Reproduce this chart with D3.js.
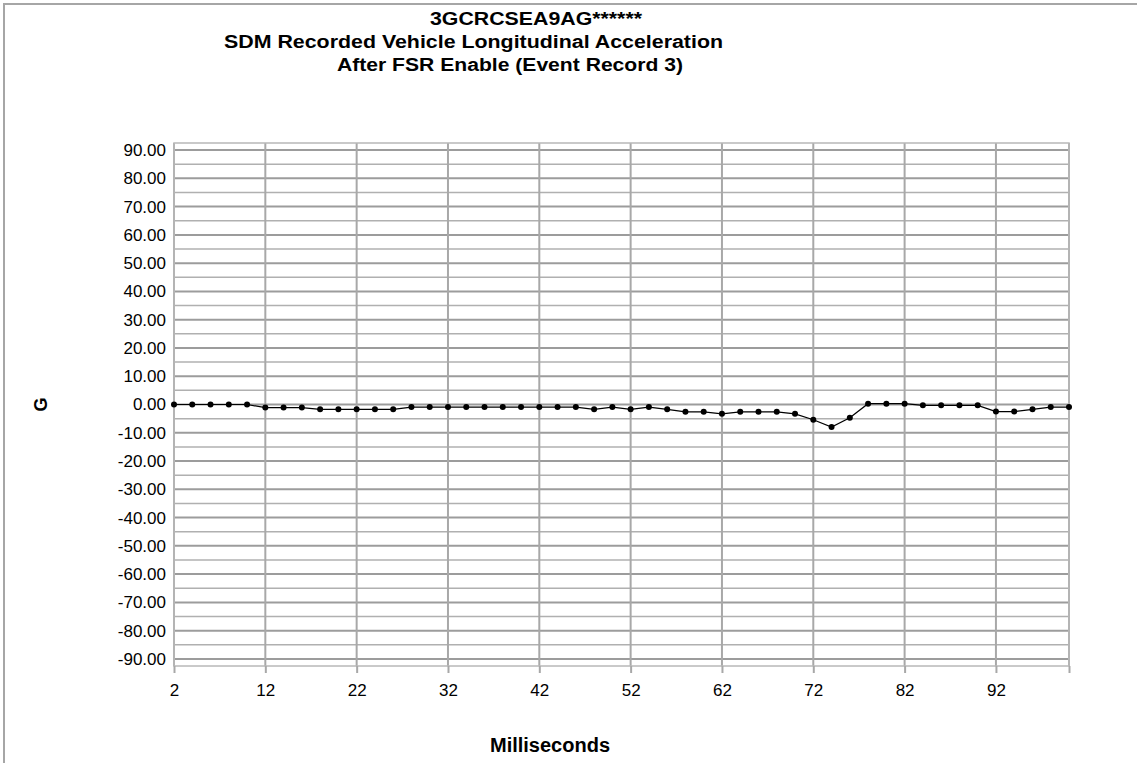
<!DOCTYPE html>
<html>
<head>
<meta charset="utf-8">
<script src="https://cdn.jsdelivr.net/npm/d3@7"></script>
<style>
  body { margin: 0; background: #fff; }
  text { font-family: "Liberation Sans", Arial, sans-serif; fill: #000; }
  .title { font-weight: bold; font-size: 18px; }
  .axisTitle { font-weight: bold; }
</style>
</head>
<body>
<div id="chart"></div>
<script>
// data
const titleLines = ["3GCRCSEA9AG******", "SDM Recorded Vehicle Longitudinal Acceleration", "After FSR Enable (Event Record 3)"];
const milliseconds = d3.range(2, 101, 2);   // 2, 4, ... 100
const accelG = [
    0, 0, 0, 0, 0, -1.1, -1.1, -1.1, -1.7, -1.7,
    -1.7, -1.7, -1.7, -0.9, -0.9, -0.9, -0.9, -0.9, -0.9, -0.9,
    -0.9, -0.9, -0.9, -1.7, -0.9, -1.7, -0.9, -1.7, -2.6, -2.6,
    -3.3, -2.6, -2.6, -2.6, -3.3, -5.4, -8.0, -4.7, 0.3, 0.3,
    0.3, -0.3, -0.3, -0.3, -0.3, -2.5, -2.5, -1.7, -0.9, -0.9
];
const xTicks = [2, 12, 22, 32, 42, 52, 62, 72, 82, 92];
const yTicks = d3.range(-90, 91, 10);
const yMinor = d3.range(-85, 90, 10);

const width = 1137, height = 763;
const margin = {top: 143, right: 68, bottom: 97, left: 174};

const svg = d3.select("#chart").append("svg")
    .attr("width", width)
    .attr("height", height);

// outer chart border (runs off the right and bottom edge)
svg.append("rect")
    .attr("x", 4).attr("y", 4)
    .attr("width", width + 20).attr("height", height + 20)
    .attr("fill", "none")
    .attr("stroke", "#a6a6a6")
    .attr("stroke-width", 2);

// title, Excel-style with uneven indents
const titleX = [430, 224, 337];
const titleW = [212, 499, 346];
svg.selectAll(".title")
    .data(titleLines)
    .join("text")
    .attr("class", "title")
    .attr("x", (d, i) => titleX[i])
    .attr("y", (d, i) => 25 + i * 23)
    .attr("textLength", (d, i) => titleW[i])
    .attr("lengthAdjust", "spacingAndGlyphs")
    .text(d => d);

const x = d3.scaleLinear()
    .domain([2, 100])
    .range([margin.left, width - margin.right]);

const y = d3.scaleLinear()
    .domain([-92.5, 92.5])
    .range([height - margin.bottom, margin.top]);

const g = svg.append("g");

// minor horizontal gridlines
g.selectAll(".minor")
    .data(yMinor)
    .join("line")
    .attr("x1", x(2)).attr("x2", x(100))
    .attr("y1", d => y(d)).attr("y2", d => y(d))
    .attr("stroke", "#b0b0b0")
    .attr("stroke-width", 1.5);

// major horizontal gridlines
g.selectAll(".major")
    .data(yTicks)
    .join("line")
    .attr("x1", x(2)).attr("x2", x(100))
    .attr("y1", d => y(d)).attr("y2", d => y(d))
    .attr("stroke", "#9c9c9c")
    .attr("stroke-width", 2);

// vertical gridlines
g.selectAll(".vgrid")
    .data(xTicks.concat([100]))
    .join("line")
    .attr("x1", d => x(d)).attr("x2", d => x(d))
    .attr("y1", y(92.5)).attr("y2", y(-92.5))
    .attr("stroke", "#a8a8a8")
    .attr("stroke-width", 2);

// plot area border
g.append("rect")
    .attr("x", x(2)).attr("y", y(92.5))
    .attr("width", x(100) - x(2))
    .attr("height", y(-92.5) - y(92.5))
    .attr("fill", "none")
    .attr("stroke", "#b8b8b8")
    .attr("stroke-width", 1.5);

// y axis labels, plain hyphen for negatives like Excel
const yAxis = d3.axisLeft(y)
    .tickValues(yTicks)
    .tickFormat(d => d3.format(".2f")(d).replace("\u2212", "-"))
    .tickSize(0)
    .tickPadding(8);
svg.append("g")
    .attr("transform", `translate(${margin.left},0)`)
    .call(yAxis)
    .call(s => s.select(".domain").remove())
    .selectAll("text")
    .style("font-size", "17px")
    .attr("font-family", null);

// x axis with ticks hanging below
const xAxis = d3.axisBottom(x)
    .tickValues(xTicks.concat([100]))
    .tickFormat(d => d === 100 ? "" : d)
    .tickSize(7)
    .tickPadding(11);
const xg = svg.append("g")
    .attr("transform", `translate(0,${height - margin.bottom})`)
    .call(xAxis);
xg.select(".domain").remove();
xg.selectAll(".tick line").attr("stroke", "#a8a8a8").attr("stroke-width", 2);
xg.selectAll("text")
    .style("font-size", "17px")
    .attr("font-family", null);

// the data line
const line = d3.line()
    .x((d, i) => x(milliseconds[i]))
    .y(d => y(d));

g.append("path")
    .datum(accelG)
    .attr("d", line)
    .attr("fill", "none")
    .attr("stroke", "#000")
    .attr("stroke-width", 1.2);

g.selectAll(".dot")
    .data(accelG)
    .join("circle")
    .attr("cx", (d, i) => x(milliseconds[i]))
    .attr("cy", d => y(d))
    .attr("r", 3)
    .attr("fill", "#000");

// axis titles
svg.append("text")
    .attr("class", "axisTitle")
    .attr("transform", `translate(47,${y(0)}) rotate(-90)`)
    .attr("text-anchor", "middle")
    .style("font-size", "18px")
    .text("G");

svg.append("text")
    .attr("class", "axisTitle")
    .attr("x", 550)
    .attr("y", 752)
    .attr("text-anchor", "middle")
    .style("font-size", "20px")
    .text("Milliseconds");
</script>
</body>
</html>
